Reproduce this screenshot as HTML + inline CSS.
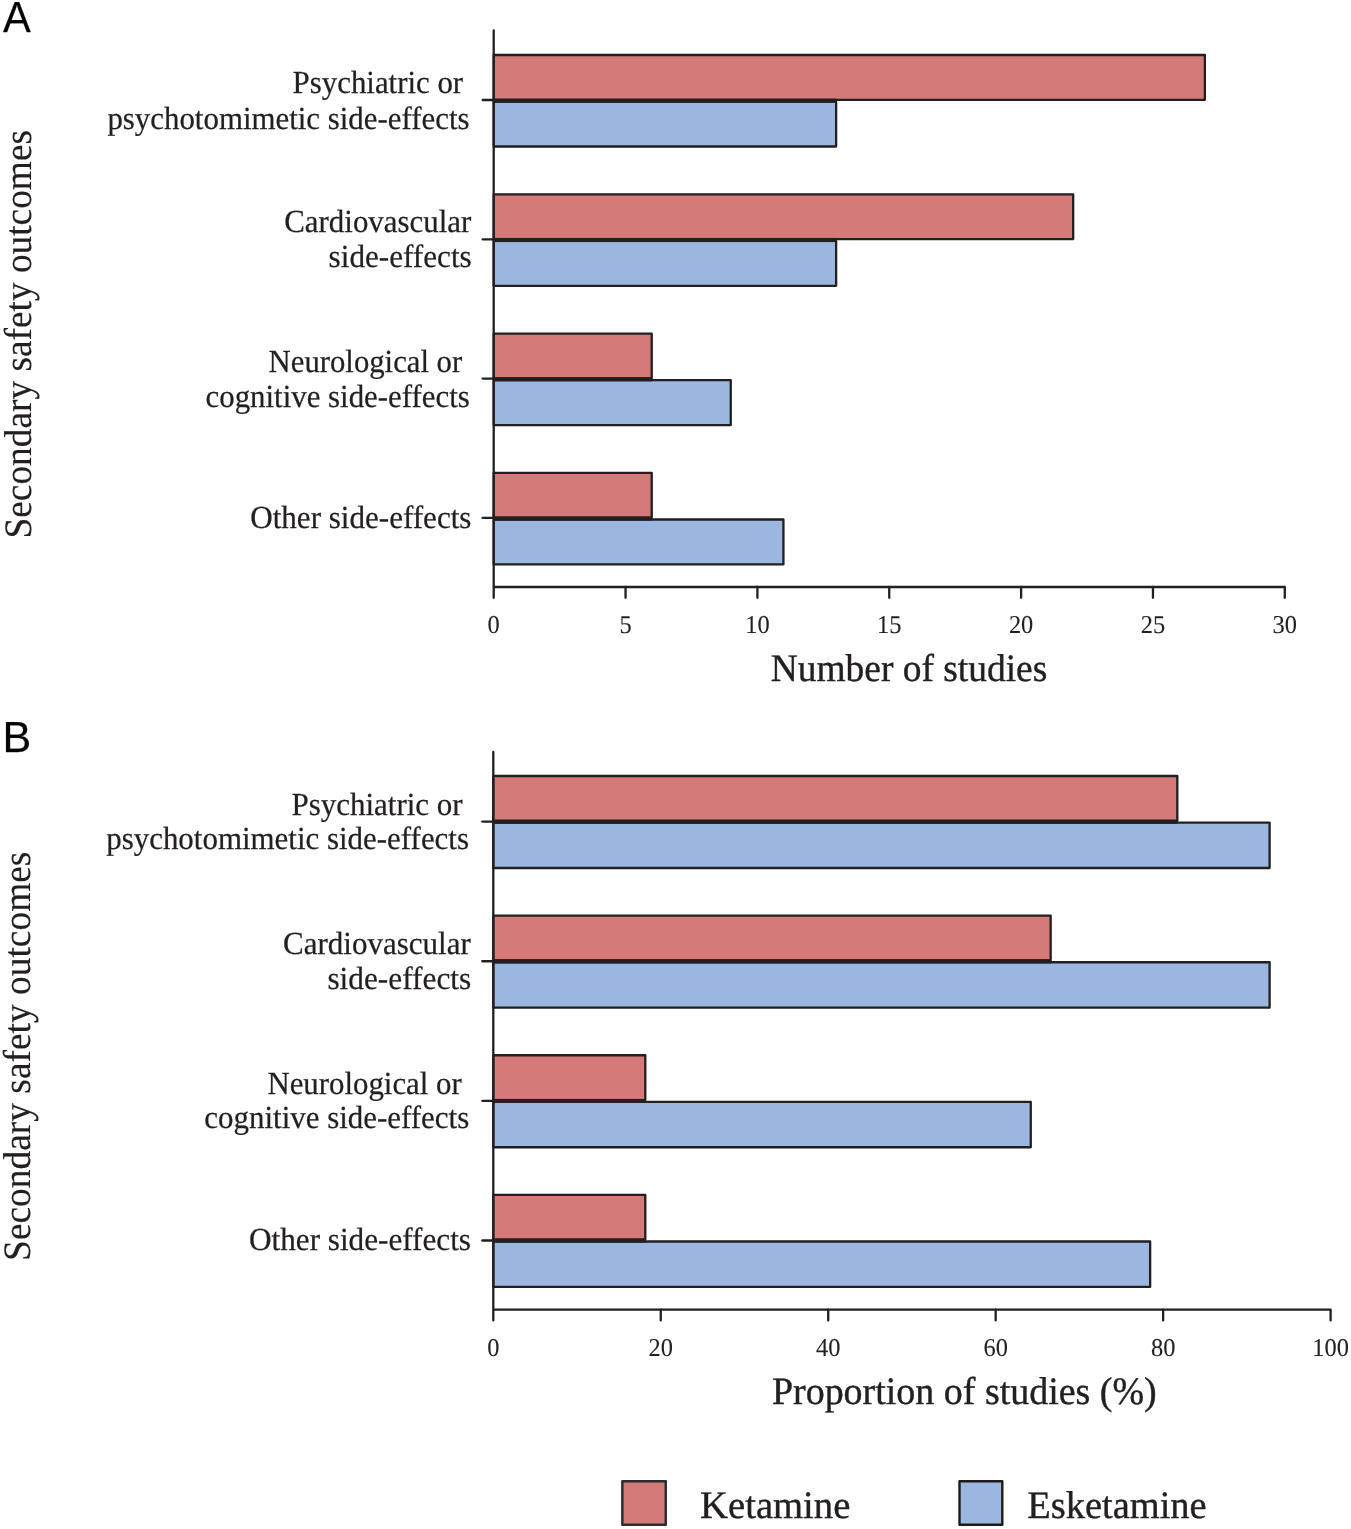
<!DOCTYPE html>
<html><head><meta charset="utf-8"><title>Secondary safety outcomes</title>
<style>html,body{margin:0;padding:0;background:#fff;}body{width:1351px;height:1529px;overflow:hidden;font-family:"Liberation Serif",serif;}svg{display:block;}text{text-rendering:geometricPrecision;stroke:#231f20;stroke-width:0.25px;}text.tk{stroke-width:0.1px;}text.big{stroke-width:0.4px;}text.rot{stroke-width:0.15px;}</style>
</head><body>
<svg style="will-change:transform" width="1351" height="1529" viewBox="0 0 1351 1529">
<rect width="1351" height="1529" fill="#fff"/>
<rect x="493.7" y="55" width="711.18" height="44.8" fill="#d47b7a" stroke="#231f20" stroke-width="2.3" stroke-linejoin="round"/>
<rect x="493.7" y="101.6" width="342.42" height="44.9" fill="#9cb7df" stroke="#231f20" stroke-width="2.3" stroke-linejoin="round"/>
<rect x="493.7" y="98.65" width="342.42" height="4.1" fill="#231f20"/>
<rect x="493.7" y="194.3" width="579.48" height="44.8" fill="#d47b7a" stroke="#231f20" stroke-width="2.3" stroke-linejoin="round"/>
<rect x="493.7" y="240.9" width="342.42" height="44.9" fill="#9cb7df" stroke="#231f20" stroke-width="2.3" stroke-linejoin="round"/>
<rect x="493.7" y="237.95" width="342.42" height="4.1" fill="#231f20"/>
<rect x="493.7" y="333.6" width="158.04" height="44.8" fill="#d47b7a" stroke="#231f20" stroke-width="2.3" stroke-linejoin="round"/>
<rect x="493.7" y="380.2" width="237.06" height="44.9" fill="#9cb7df" stroke="#231f20" stroke-width="2.3" stroke-linejoin="round"/>
<rect x="493.7" y="377.25" width="158.04" height="4.1" fill="#231f20"/>
<rect x="493.7" y="472.9" width="158.04" height="44.8" fill="#d47b7a" stroke="#231f20" stroke-width="2.3" stroke-linejoin="round"/>
<rect x="493.7" y="519.5" width="289.74" height="44.9" fill="#9cb7df" stroke="#231f20" stroke-width="2.3" stroke-linejoin="round"/>
<rect x="493.7" y="516.55" width="158.04" height="4.1" fill="#231f20"/>
<line x1="482.6" y1="100" x2="493.7" y2="100" stroke="#231f20" stroke-width="2.3" stroke-linecap="round"/>
<line x1="482.6" y1="239.3" x2="493.7" y2="239.3" stroke="#231f20" stroke-width="2.3" stroke-linecap="round"/>
<line x1="482.6" y1="378.6" x2="493.7" y2="378.6" stroke="#231f20" stroke-width="2.3" stroke-linecap="round"/>
<line x1="482.6" y1="517.9" x2="493.7" y2="517.9" stroke="#231f20" stroke-width="2.3" stroke-linecap="round"/>
<path d="M493.7 30.4 L493.7 597.8 M493.7 587 L1284.8 587 L1284.8 597.8" fill="none" stroke="#231f20" stroke-width="2.3" stroke-linecap="round" stroke-linejoin="round"/>
<line x1="625.55" y1="587" x2="625.55" y2="597.8" stroke="#231f20" stroke-width="2.3" stroke-linecap="round"/>
<line x1="757.4" y1="587" x2="757.4" y2="597.8" stroke="#231f20" stroke-width="2.3" stroke-linecap="round"/>
<line x1="889.25" y1="587" x2="889.25" y2="597.8" stroke="#231f20" stroke-width="2.3" stroke-linecap="round"/>
<line x1="1021.1" y1="587" x2="1021.1" y2="597.8" stroke="#231f20" stroke-width="2.3" stroke-linecap="round"/>
<line x1="1152.95" y1="587" x2="1152.95" y2="597.8" stroke="#231f20" stroke-width="2.3" stroke-linecap="round"/>
<text class="tk" transform="translate(493.7,633.4) scale(0.95,1)" font-size="25.7" font-family="Liberation Serif" fill="#231f20" text-anchor="middle">0</text>
<text class="tk" transform="translate(625.55,633.4) scale(0.95,1)" font-size="25.7" font-family="Liberation Serif" fill="#231f20" text-anchor="middle">5</text>
<text class="tk" transform="translate(757.4,633.4) scale(0.95,1)" font-size="25.7" font-family="Liberation Serif" fill="#231f20" text-anchor="middle">10</text>
<text class="tk" transform="translate(889.25,633.4) scale(0.95,1)" font-size="25.7" font-family="Liberation Serif" fill="#231f20" text-anchor="middle">15</text>
<text class="tk" transform="translate(1021.1,633.4) scale(0.95,1)" font-size="25.7" font-family="Liberation Serif" fill="#231f20" text-anchor="middle">20</text>
<text class="tk" transform="translate(1152.95,633.4) scale(0.95,1)" font-size="25.7" font-family="Liberation Serif" fill="#231f20" text-anchor="middle">25</text>
<text class="tk" transform="translate(1284.8,633.4) scale(0.95,1)" font-size="25.7" font-family="Liberation Serif" fill="#231f20" text-anchor="middle">30</text>
<rect x="493.3" y="776" width="684.02" height="44.8" fill="#d47b7a" stroke="#231f20" stroke-width="2.3" stroke-linejoin="round"/>
<rect x="493.3" y="822.6" width="776.31" height="45.4" fill="#9cb7df" stroke="#231f20" stroke-width="2.3" stroke-linejoin="round"/>
<rect x="493.3" y="819.65" width="684.02" height="4.1" fill="#231f20"/>
<rect x="493.3" y="915.63" width="557.36" height="44.8" fill="#d47b7a" stroke="#231f20" stroke-width="2.3" stroke-linejoin="round"/>
<rect x="493.3" y="962.23" width="776.31" height="45.4" fill="#9cb7df" stroke="#231f20" stroke-width="2.3" stroke-linejoin="round"/>
<rect x="493.3" y="959.28" width="557.36" height="4.1" fill="#231f20"/>
<rect x="493.3" y="1055.26" width="151.98" height="44.8" fill="#d47b7a" stroke="#231f20" stroke-width="2.3" stroke-linejoin="round"/>
<rect x="493.3" y="1101.86" width="537.46" height="45.4" fill="#9cb7df" stroke="#231f20" stroke-width="2.3" stroke-linejoin="round"/>
<rect x="493.3" y="1098.91" width="151.98" height="4.1" fill="#231f20"/>
<rect x="493.3" y="1194.89" width="151.98" height="44.8" fill="#d47b7a" stroke="#231f20" stroke-width="2.3" stroke-linejoin="round"/>
<rect x="493.3" y="1241.49" width="656.85" height="45.4" fill="#9cb7df" stroke="#231f20" stroke-width="2.3" stroke-linejoin="round"/>
<rect x="493.3" y="1238.54" width="151.98" height="4.1" fill="#231f20"/>
<line x1="482.3" y1="821.6" x2="493.3" y2="821.6" stroke="#231f20" stroke-width="2.3" stroke-linecap="round"/>
<line x1="482.3" y1="961.23" x2="493.3" y2="961.23" stroke="#231f20" stroke-width="2.3" stroke-linecap="round"/>
<line x1="482.3" y1="1100.86" x2="493.3" y2="1100.86" stroke="#231f20" stroke-width="2.3" stroke-linecap="round"/>
<line x1="482.3" y1="1240.49" x2="493.3" y2="1240.49" stroke="#231f20" stroke-width="2.3" stroke-linecap="round"/>
<path d="M493.3 751.8 L493.3 1320.4 M493.3 1309.6 L1330.6 1309.6 L1330.6 1320.4" fill="none" stroke="#231f20" stroke-width="2.3" stroke-linecap="round" stroke-linejoin="round"/>
<line x1="660.76" y1="1309.6" x2="660.76" y2="1320.4" stroke="#231f20" stroke-width="2.3" stroke-linecap="round"/>
<line x1="828.22" y1="1309.6" x2="828.22" y2="1320.4" stroke="#231f20" stroke-width="2.3" stroke-linecap="round"/>
<line x1="995.68" y1="1309.6" x2="995.68" y2="1320.4" stroke="#231f20" stroke-width="2.3" stroke-linecap="round"/>
<line x1="1163.14" y1="1309.6" x2="1163.14" y2="1320.4" stroke="#231f20" stroke-width="2.3" stroke-linecap="round"/>
<text class="tk" transform="translate(493.3,1356.2) scale(0.95,1)" font-size="25.7" font-family="Liberation Serif" fill="#231f20" text-anchor="middle">0</text>
<text class="tk" transform="translate(660.76,1356.2) scale(0.95,1)" font-size="25.7" font-family="Liberation Serif" fill="#231f20" text-anchor="middle">20</text>
<text class="tk" transform="translate(828.22,1356.2) scale(0.95,1)" font-size="25.7" font-family="Liberation Serif" fill="#231f20" text-anchor="middle">40</text>
<text class="tk" transform="translate(995.68,1356.2) scale(0.95,1)" font-size="25.7" font-family="Liberation Serif" fill="#231f20" text-anchor="middle">60</text>
<text class="tk" transform="translate(1163.14,1356.2) scale(0.95,1)" font-size="25.7" font-family="Liberation Serif" fill="#231f20" text-anchor="middle">80</text>
<text class="tk" transform="translate(1330.6,1356.2) scale(0.95,1)" font-size="25.7" font-family="Liberation Serif" fill="#231f20" text-anchor="middle">100</text>
<text transform="translate(292.6,93.3) scale(0.9586,1)" font-size="32.2" font-family="Liberation Serif" fill="#231f20">Psychiatric or</text>
<text transform="translate(107.41,128.5) scale(0.9591,1)" font-size="32.2" font-family="Liberation Serif" fill="#231f20">psychotomimetic side-effects</text>
<text transform="translate(284.23,232.1) scale(0.9602,1)" font-size="32.2" font-family="Liberation Serif" fill="#231f20">Cardiovascular</text>
<text transform="translate(328.62,267.1) scale(0.9682,1)" font-size="32.2" font-family="Liberation Serif" fill="#231f20">side-effects</text>
<text transform="translate(268.61,372.2) scale(0.9542,1)" font-size="32.2" font-family="Liberation Serif" fill="#231f20">Neurological or</text>
<text transform="translate(205.53,406.6) scale(0.9587,1)" font-size="32.2" font-family="Liberation Serif" fill="#231f20">cognitive side-effects</text>
<text transform="translate(250.23,528.3) scale(0.9656,1)" font-size="32.2" font-family="Liberation Serif" fill="#231f20">Other side-effects</text>
<text transform="translate(291.4,814.6) scale(0.9626,1)" font-size="32.2" font-family="Liberation Serif" fill="#231f20">Psychiatric or</text>
<text transform="translate(106.2,849.3) scale(0.9610,1)" font-size="32.2" font-family="Liberation Serif" fill="#231f20">psychotomimetic side-effects</text>
<text transform="translate(283.03,953.7) scale(0.9638,1)" font-size="32.2" font-family="Liberation Serif" fill="#231f20">Cardiovascular</text>
<text transform="translate(327.42,989.2) scale(0.9730,1)" font-size="32.2" font-family="Liberation Serif" fill="#231f20">side-effects</text>
<text transform="translate(267.41,1094.4) scale(0.9577,1)" font-size="32.2" font-family="Liberation Serif" fill="#231f20">Neurological or</text>
<text transform="translate(204.32,1127.9) scale(0.9613,1)" font-size="32.2" font-family="Liberation Serif" fill="#231f20">cognitive side-effects</text>
<text transform="translate(249.02,1250.3) scale(0.9687,1)" font-size="32.2" font-family="Liberation Serif" fill="#231f20">Other side-effects</text>
<text class="big" transform="translate(770.71,681.1) scale(0.9647,1)" font-size="38.8" font-family="Liberation Serif" fill="#231f20">Number of studies</text>
<text class="big" transform="translate(771.9,1403.9) scale(0.9784,1)" font-size="38.8" font-family="Liberation Serif" fill="#231f20">Proportion of studies (%)</text>
<text class="rot" transform="translate(31.3,538.5) rotate(-90) scale(0.96239,1.0)" font-size="38.8" font-family="Liberation Serif" fill="#231f20" style="stroke-width:0.15px">Secondary safety outcomes</text>
<text class="rot" transform="translate(29.7,1260.91) rotate(-90) scale(0.96430,1.0)" font-size="38.8" font-family="Liberation Serif" fill="#231f20" style="stroke-width:0.15px">Secondary safety outcomes</text>
<text transform="translate(2.92,32.2) scale(0.9547,1)" font-size="43.6" font-family="Liberation Sans" fill="#000">A</text>
<text transform="translate(2.47,752) scale(0.9905,1)" font-size="43.46" font-family="Liberation Sans" fill="#000">B</text>
<rect x="622.35" y="1481.25" width="43.4" height="43.6" fill="#d47b7a" stroke="#2b2e2e" stroke-width="2.5" stroke-linejoin="round"/>
<rect x="959.5" y="1481.2" width="42.8" height="43.6" fill="#9cb7df" stroke="#1f1a17" stroke-width="2.4" stroke-linejoin="round"/>
<text class="big" transform="translate(700.08,1517.7) scale(0.9964,1)" font-size="38.8" font-family="Liberation Serif" fill="#231f20">Ketamine</text>
<text class="big" transform="translate(1027.18,1517.7) scale(0.9915,1)" font-size="38.8" font-family="Liberation Serif" fill="#231f20">Esketamine</text>
</svg>
</body></html>
